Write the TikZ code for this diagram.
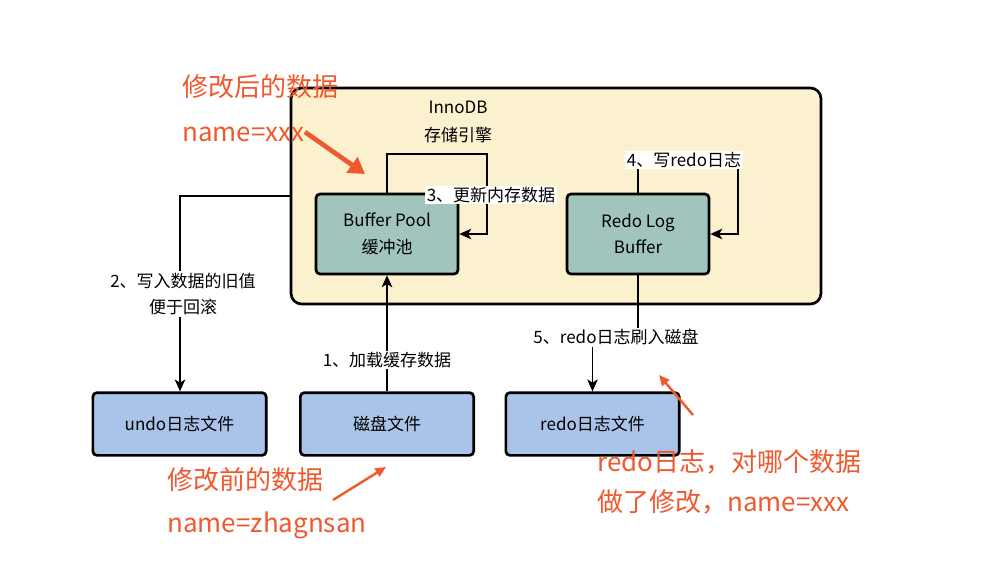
\documentclass[tikz,border=0pt]{standalone}
\usepackage{fontspec}
\setmainfont{Noto Sans CJK SC}
\usetikzlibrary{arrows.meta}
\definecolor{boxyellow}{RGB}{252,241,207}
\definecolor{tealbox}{RGB}{161,197,188}
\definecolor{bluebox}{RGB}{169,196,232}
\definecolor{annred}{RGB}{240,88,45}
\newcommand\nodefont{\fontsize{12.75pt}{20pt}\selectfont}
\newcommand\redfont{\fontsize{19.5pt}{30pt}\selectfont}
\tikzset{
  box/.style={draw=black, line width=2pt, rounded corners=3pt, align=center, font=\nodefont, inner sep=0pt},
  membox/.style={box, fill=tealbox, minimum width=106.5pt, minimum height=60pt},
  filebox/.style={box, fill=bluebox, minimum width=130pt, minimum height=47pt},
  lbl/.style={fill=white, inner sep=1.2pt, font=\nodefont, align=center},
  conn/.style={draw=black, line width=0.8pt, -{Stealth[length=9pt,width=8pt,inset=2.5pt]}},
  redtxt/.style={text=annred, font=\redfont, align=left, anchor=west, inner sep=0pt},
}
\begin{document}
\begin{tikzpicture}[x=0.75pt,y=-0.75pt]
\path[use as bounding box, fill=white] (0,0) rectangle (998,575);
% container
\node[draw=black, line width=2pt, fill=boxyellow, rounded corners=8pt, minimum width=397.5pt, minimum height=162pt] (inno) at (556,196) {};
\node[font=\nodefont, align=center] (innolabel) at (458,122) {InnoDB\\[1pt]存储引擎};
% nodes
\node[membox] (bp) at (387,234) {Buffer Pool\\缓冲池};
\node[membox] (rlb) at (638,234) {Redo Log\\Buffer};
\node[filebox] (undo) at (179.5,424) {undo日志文件};
\node[filebox] (disk) at (387,424) {磁盘文件};
\node[filebox] (redo) at (592.5,424) {redo日志文件};
% connectors
\draw[conn] (disk.north) -- (bp.south) node[lbl, pos=0.27] (l1) {1、加载缓存数据};
\draw[conn] (inno.west) -- (180,196) -- (undo.north -| 180,0);
\node[lbl] (l2) at (183,294) {2、写入数据的旧值\\便于回滚};
\draw[conn] (bp.north) -- (387,154) -- (487,154) |- (bp.east);
\node[lbl] (l3) at (491,195) {3、更新内存数据};
\draw[conn] (rlb.north) -- (638,160) -- (738,160) |- (rlb.east);
\node[lbl] (l4) at (684,160) {4、写redo日志};
\draw[conn] (rlb.south) -- (638,337) -| (redo.north);
\node[lbl] (l5) at (616,337) {5、redo日志刷入磁盘};
% red annotations
\node[redtxt] (ann1) at (182,108) {修改后的数据\\[4pt]name=xxx};
\coordinate (a1s) at (305,132);
\coordinate (a1e) at (365,174);
\draw[annred, line width=3.5pt, -{Triangle[length=12pt,width=14pt]}] (a1s) -- (a1e);
\node[redtxt] (ann2) at (167,503) {修改前的数据\\[2pt]name=zhagnsan};
\coordinate (a2s) at (333,500);
\coordinate (a2e) at (386,467);
\draw[annred, line width=1.8pt, -{Triangle[length=8pt,width=7pt]}] (a2s) -- (a2e);
\node[redtxt] (ann3) at (597,482) {redo日志，对哪个数据\\[0pt]做了修改，name=xxx};
\coordinate (a3s) at (693,415);
\coordinate (a3e) at (659,375);
\draw[annred, line width=1.8pt, -{Triangle[length=8pt,width=7pt]}] (a3s) -- (a3e);
\end{tikzpicture}
\end{document}
